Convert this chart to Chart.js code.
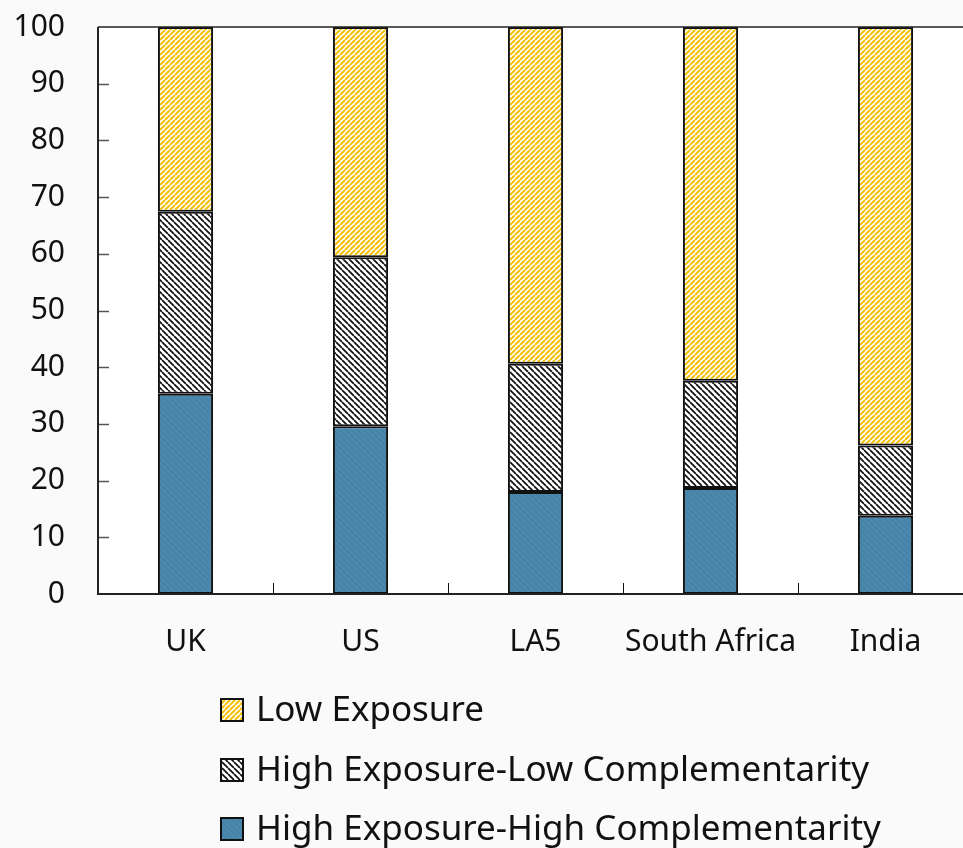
<!DOCTYPE html>
<html>
<head>
<meta charset="utf-8">
<script src="https://cdn.jsdelivr.net/npm/chart.js@4/dist/chart.umd.min.js"></script>
<style>
  html, body { margin: 0; padding: 0; background: #fafafa; overflow: hidden; }
  #wrap { position: relative; width: 975px; height: 848px; }
</style>
</head>
<body>
<div id="wrap"><canvas id="c" width="975" height="848"></canvas></div>
<script>
// Categories and shares (%) for each exposure group
const categories = ['UK', 'US', 'LA5', 'South Africa', 'India'];
const highExpHighComp = [35.3, 29.6, 18.0, 18.7, 13.8];
const highExpLowComp = [32.1, 29.8, 22.6, 18.9, 12.4];
const lowExposure = [32.6, 40.6, 59.4, 62.4, 73.8];
const yTicks = [0, 10, 20, 30, 40, 50, 60, 70, 80, 90, 100];

const FONT = "'Noto Sans', 'Open Sans', sans-serif";

// Hatch fill helpers
function makePattern(size, bg, stroke, width, dir) {
  const c = document.createElement('canvas');
  c.width = size; c.height = size;
  const g = c.getContext('2d');
  g.fillStyle = bg;
  g.fillRect(0, 0, size, size);
  g.strokeStyle = stroke;
  g.lineWidth = width;
  g.beginPath();
  for (let k = -1; k <= 1; k++) {
    if (dir === '/') {
      g.moveTo(k * size, size); g.lineTo(k * size + size, 0);
    } else {
      g.moveTo(k * size, 0); g.lineTo(k * size + size, size);
    }
  }
  g.stroke();
  return g.createPattern(c, 'repeat');
}

const ctx = document.getElementById('c').getContext('2d');
const yellowHatch = makePattern(5, '#ffffff', '#f4bf00', 2.0, '/');
const blackHatch = makePattern(6, '#ffffff', '#111111', 1.7, '\\');
const blueFill = makePattern(6, '#4b88ad', '#4580a4', 1.2, '\\');

const series = [
  { label: 'High Exposure-High Complementarity', data: highExpHighComp, fill: blueFill },
  { label: 'High Exposure-Low Complementarity', data: highExpLowComp, fill: blackHatch },
  { label: 'Low Exposure', data: lowExposure, fill: yellowHatch }
];

// Backgrounds, frame, inward ticks and the stacked legend list
const decor = {
  id: 'decor',
  beforeDraw(chart) {
    const { ctx: g, chartArea: a, width, height } = chart;
    g.save();
    g.fillStyle = '#fafafa';
    g.fillRect(0, 0, width, height);
    g.fillStyle = '#ffffff';
    g.fillRect(a.left, a.top, a.right - a.left, a.bottom - a.top);
    g.restore();
  },
  afterDatasetsDraw(chart) {
    const { ctx: g, chartArea: a, scales } = chart;
    g.save();
    // y ticks pointing inward
    g.strokeStyle = '#555';
    g.lineWidth = 1.5;
    yTicks.forEach(v => {
      if (v === 0 || v === 100) return;
      const y = Math.round(scales.y.getPixelForValue(v)) + 0.5;
      g.beginPath(); g.moveTo(a.left, y); g.lineTo(a.left + 11, y); g.stroke();
    });
    // x ticks between categories
    g.strokeStyle = '#111';
    g.lineWidth = 1;
    for (let i = 0; i < categories.length - 1; i++) {
      const x = Math.round((scales.x.getPixelForValue(i) + scales.x.getPixelForValue(i + 1)) / 2) + 0.5;
      g.beginPath(); g.moveTo(x, a.bottom); g.lineTo(x, a.bottom - 11); g.stroke();
    }
    // frame
    g.strokeStyle = '#222';
    g.lineWidth = 2;
    g.beginPath();
    g.moveTo(a.left, a.top); g.lineTo(a.left, a.bottom); g.lineTo(a.right, a.bottom);
    g.stroke();
    g.lineWidth = 1.5;
    g.beginPath();
    g.moveTo(a.left, a.top); g.lineTo(a.right, a.top); g.lineTo(a.right, a.bottom);
    g.stroke();
    g.restore();
  },
  afterDraw(chart) {
    const g = chart.ctx;
    g.save();
    const x0 = 221, rowY = [710, 770, 829];
    const order = [2, 1, 0];
    g.font = '35px ' + FONT;
    g.textBaseline = 'middle';
    order.forEach((di, r) => {
      const ds = chart.data.datasets[di];
      const y = rowY[r];
      g.fillStyle = ds.backgroundColor;
      g.fillRect(x0, y - 11, 22, 22);
      g.strokeStyle = '#111';
      g.lineWidth = 2;
      g.strokeRect(x0, y - 11, 22, 22);
      g.fillStyle = '#111';
      g.fillText(ds.label, x0 + 35, y + 1);
    });
    g.restore();
  }
};

new Chart(ctx, {
  type: 'bar',
  data: {
    labels: categories,
    datasets: series.map(s => ({
      label: s.label,
      data: s.data,
      backgroundColor: s.fill,
      borderColor: '#111',
      borderWidth: 2,
      borderSkipped: false,
      categoryPercentage: 1,
      barPercentage: 0.315
    }))
  },
  options: {
    responsive: false,
    animation: false,
    layout: { padding: { top: 27, right: 2, left: 0, bottom: 0 } },
    plugins: { legend: { display: false }, tooltip: { enabled: false } },
    scales: {
      x: {
        stacked: true,
        grid: { display: false, drawTicks: false },
        border: { display: false },
        ticks: { color: '#111', font: { family: FONT, size: 30 }, padding: 30, maxRotation: 0, minRotation: 0, autoSkip: false },
        afterFit(s) { s.height = 254; s.paddingLeft = 0; s.paddingRight = 0; }
      },
      y: {
        stacked: true,
        min: 0, max: 100,
        afterBuildTicks(s) { s.ticks = yTicks.map(v => ({ value: v })); },
        grid: { display: false, drawTicks: false },
        border: { display: false },
        ticks: { color: '#111', font: { family: FONT, size: 30 }, padding: 33 },
        afterFit(s) { s.width = 98; s.paddingTop = 0; s.paddingBottom = 0; }
      }
    }
  },
  plugins: [decor]
});
</script>
</body>
</html>
